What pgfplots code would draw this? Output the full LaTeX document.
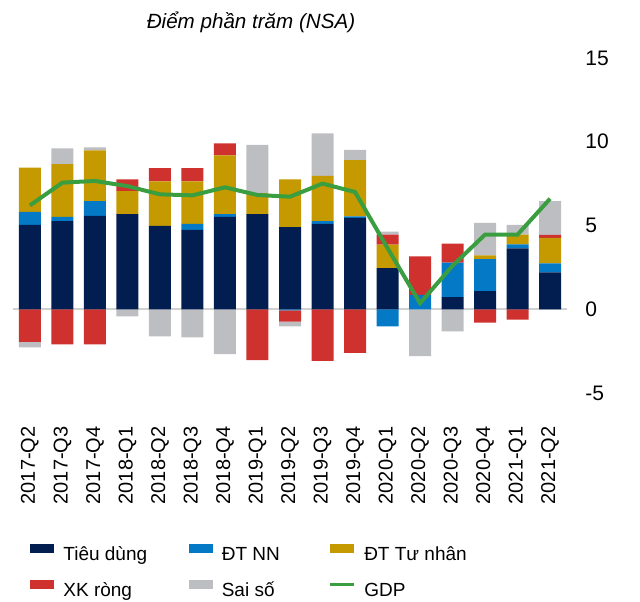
\documentclass[border=0pt]{standalone}
\usepackage{pgfplots}
\pgfplotsset{compat=1.18}
\usepackage{pgfplotstable}
\usepackage{fontspec}
\setmainfont{Liberation Sans}
\definecolor{cTD}{HTML}{021E50}
\definecolor{cNN}{HTML}{0479C6}
\definecolor{cTN}{HTML}{C49A00}
\definecolor{cXK}{HTML}{CE312E}
\definecolor{cSS}{HTML}{BDBEC2}
\definecolor{cGDP}{HTML}{3A9E40}
\pgfplotsset{sqleg/.style={legend image code/.code={\fill[##1] (0pt,1pt) rectangle (12pt,5.5pt);}},
  lnleg/.style={legend image code/.code={\draw[##1, line width=1.2pt] (0pt,3.3pt) -- (12pt,3.3pt);}},
  frame/.style={at={(6.5pt,104pt)}, anchor=south west,
  scale only axis, width=277pt, height=167.5pt,
  xmin=-0.52, xmax=16.52, ymin=-5, ymax=15}}
\pgfplotstableread{
x TD NN TN XK SS GDP
0 5.04 0.78 2.64 -1.94 -0.34 6.20
1 5.26 0.26 3.14 -2.10 0.94 7.56
2 5.58 0.88 3.02 -2.10 0.18 7.66
3 5.68 0.00 1.38 0.70 -0.42 7.35
4 4.98 0.00 2.66 0.78 -1.62 6.86
5 4.74 0.36 2.54 0.78 -1.68 6.80
6 5.52 0.16 3.50 0.72 -2.68 7.28
7 5.68 0.00 1.26 -3.04 2.88 6.82
8 4.90 -0.06 2.86 -0.68 -0.28 6.72
9 5.10 0.16 2.70 -3.08 2.54 7.50
10 5.46 0.08 3.36 -2.60 0.62 7.00
11 2.46 -1.02 1.40 0.60 0.18 3.65
12 0.00 0.86 0.00 2.30 -2.80 0.36
13 0.72 2.06 0.00 1.14 -1.32 2.60
14 1.08 1.92 0.22 -0.80 1.94 4.46
15 3.64 0.24 0.58 -0.62 0.58 4.46
16 2.20 0.54 1.52 0.18 2.02 6.60
}\data
\begin{document}
\begin{tikzpicture}
\useasboundingbox (0,0) rectangle (320pt,300.5pt);
\node[anchor=base, font=\fontsize{10.3}{12}\selectfont\itshape] at (125.5pt,286.4pt) {Điểm phần trăm (NSA)};
\begin{axis}[
  frame,
  ybar stacked, stack negative=separate, bar width=11pt,
  axis line style={draw=none},
  major tick length=0pt,
  ytick={-5,0,5,10,15},
  extra y ticks={0}, extra y tick labels={},
  extra y tick style={grid=major, major grid style={draw=black!18, line width=0.8pt}},
  yticklabel pos=right,
  /pgf/number format/assume math mode=true,
  yticklabel style={anchor=west, inner sep=0pt, xshift=9pt, font=\fontsize{10.5}{12}\selectfont},
  xtick={0,...,16},
  xticklabels={2017-Q2,2017-Q3,2017-Q4,2018-Q1,2018-Q2,2018-Q3,2018-Q4,2019-Q1,2019-Q2,2019-Q3,2019-Q4,2020-Q1,2020-Q2,2020-Q3,2020-Q4,2021-Q1,2021-Q2},
  xticklabel style={yshift=-16.5pt, rotate=90, anchor=east, inner sep=0pt, font=\fontsize{10}{12}\selectfont},
  legend columns=3,
  legend cell align=left,
  legend style={at={(0,0)}, anchor=north west, xshift=8.5pt, yshift=-75.2pt,
    draw=none, fill=none, inner sep=0pt, column sep=0pt, row sep=7.8pt,
    font=\fontsize{9.5}{11}\selectfont,
    nodes={inner sep=0pt, text height=7.5pt, text depth=2pt},
    /tikz/column 1/.style={column sep=4.5pt},
    /tikz/column 2/.style={column sep=20.8pt},
    /tikz/column 3/.style={column sep=4.5pt},
    /tikz/column 4/.style={column sep=24.5pt},
    /tikz/column 5/.style={column sep=4.5pt}},
]
\addplot[fill=cTD, draw=none, sqleg] table[x=x, y=TD]{\data};
\addlegendentry{Tiêu dùng}
\addplot[fill=cNN, draw=none, sqleg] table[x=x, y=NN]{\data};
\addlegendentry{ĐT NN}
\addplot[fill=cTN, draw=none, sqleg] table[x=x, y=TN]{\data};
\addlegendentry{ĐT Tư nhân}
\addplot[fill=cXK, draw=none, sqleg] table[x=x, y=XK]{\data};
\addlegendentry{XK ròng}
\addplot[fill=cSS, draw=none, sqleg] table[x=x, y=SS]{\data};
\addlegendentry{Sai số}
\addlegendimage{cGDP, line width=2pt, lnleg}
\addlegendentry{GDP}
\end{axis}
\begin{axis}[frame, hide axis]
\addplot[sharp plot, cGDP, line width=2pt, mark=none] table[x=x, y=GDP]{\data};
\end{axis}
\end{tikzpicture}
\end{document}
